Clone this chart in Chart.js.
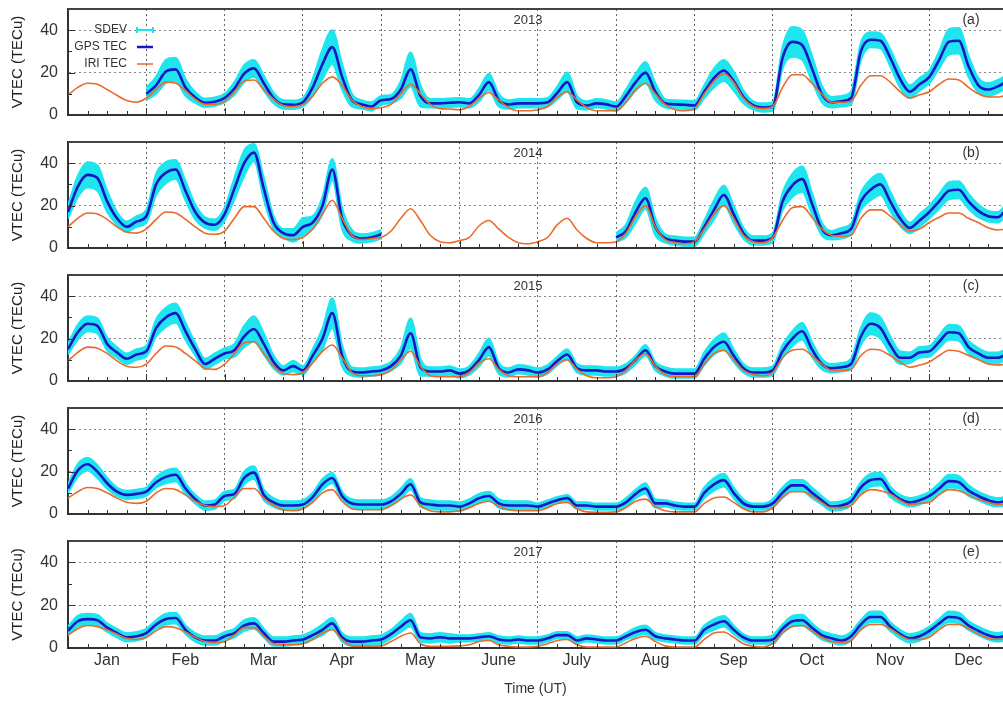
<!DOCTYPE html>
<html>
<head>
<meta charset="utf-8">
<script src="https://cdn.jsdelivr.net/npm/chart.js@4.4.1/dist/chart.umd.min.js"></script>
<style>
  html, body { margin: 0; padding: 0; background: #fff; overflow: hidden; }
  #wrap { position: relative; width: 1003px; height: 701px; }
  canvas { position: absolute; left: 0; }
</style>
</head>
<body>
<div id="wrap">
  <canvas id="c0" width="1003" height="133" style="top:0px"></canvas>
  <canvas id="c1" width="1003" height="133" style="top:133px"></canvas>
  <canvas id="c2" width="1003" height="133" style="top:266px"></canvas>
  <canvas id="c3" width="1003" height="133" style="top:399px"></canvas>
  <canvas id="c4" width="1003" height="169" style="top:532px"></canvas>
</div>
<script>
const months = ['Jan', 'Feb', 'Mar', 'Apr', 'May', 'June', 'July', 'Aug', 'Sep', 'Oct', 'Nov', 'Dec'];
const years = ['2013', '2014', '2015', '2016', '2017'];
const tags = ['(a)', '(b)', '(c)', '(d)', '(e)'];
const perMonth = 8; // one value every 3 h UT, one line per month below
const N = null;

// ---- 2013 ----
const gps2013 = [
  N, N, N, N, N, N, N, N,
  10, 14, 20.5, 21.5, 13, 8.3, 5.8, 6.3,
  8, 12.5, 19.5, 22, 15, 8, 5, 4.8,
  6, 13, 24, 32, 18, 7, 5, 4,
  7, 7.5, 12, 21.5, 9, 5.5, 5.5, 5.8,
  6, 5.5, 9.5, 15.5, 7, 5, 5.5, 5.5,
  5.5, 6, 10.5, 15.5, 6, 4.5, 5.5, 5,
  4, 9, 15.5, 20, 11, 5.5, 5, 4.8,
  4.5, 11, 17.5, 21, 16, 8.5, 4.5, 3.5,
  4, 27, 34.5, 33, 22, 10, 6, 6.5,
  8, 30, 35.5, 35, 27, 17, 11, 14.5,
  18, 26, 34.5, 35, 23, 14, 12, 13.5,
  16
];
const sd2013 = [
  N, N, N, N, N, N, N, N,
  3, 4, 5.5, 5.5, 4, 2.5, 2, 2,
  2, 3, 4, 4, 3.5, 2.5, 2, 2,
  2, 4, 7, 8, 6, 3, 2, 2,
  2, 2, 4, 8, 5, 2, 2, 2,
  2, 2, 3, 4, 3, 2, 2, 2,
  2, 2, 3, 4.5, 3, 2, 2, 2,
  2, 3, 4, 5, 4, 2, 2, 2,
  2, 3, 4.5, 5, 4.5, 3, 2, 2,
  2, 5, 7, 7, 6, 4, 2.5, 2.5,
  3, 4, 3.5, 3.5, 4, 4, 3, 3,
  3, 4, 6, 6, 5, 3.5, 3, 3,
  3
];
const iri2013 = [
  9.4, 13, 15, 14.5, 12, 9.3, 6.8, 6,
  8, 12, 15.5, 15, 11.5, 7.5, 5, 5,
  6.5, 11, 16, 16.5, 12, 7.5, 4.5, 4,
  5, 9, 15, 18, 14, 7, 4, 3,
  3.5, 5, 10, 14.5, 10, 5, 3, 2.8,
  2.5, 4, 8, 10.5, 7, 3.5, 2, 2,
  2.5, 4, 8.5, 11, 7, 3.5, 2, 2,
  2, 6, 12, 15, 10, 5, 2.5, 2,
  3, 10, 16, 19.5, 15.5, 8, 4, 3,
  4, 13, 19, 19, 15, 10, 6, 6,
  6.5, 14, 18.5, 18.5, 15.5, 11, 8, 9.5,
  11, 14.5, 17, 16.5, 13, 10, 8.5, 8.5,
  9.5
];

// ---- 2014 ----
const gps2014 = [
  17, 29, 34.5, 33, 22, 14, 10, 12.5,
  15, 30, 35.5, 37, 27, 17, 12, 11,
  16, 28, 40, 45, 28, 12, 7, 6,
  10, 12, 20, 37, 14, 6, 4.5, 5,
  6.5, N, N, N, N, N, N, N,
  N, N, N, N, N, N, N, N,
  N, N, N, N, N, N, N, N,
  5, 8, 17, 23.5, 10, 4.5, 3.5, 3,
  3, 10, 18, 25, 16, 7, 3.5, 3.5,
  5, 22, 29.5, 32.5, 21, 9, 6, 7,
  9, 22, 27.5, 30, 22, 14, 9.5, 13,
  17, 22, 27, 27.5, 22, 17.5, 15, 14.5,
  19
];
const sd2014 = [
  3, 5, 6, 6, 5, 3, 2.5, 2.5,
  3, 5, 5, 4.5, 4.5, 3.5, 2.5, 2.5,
  3, 5, 6, 4, 5, 3, 2, 3,
  4, 3, 4, 5, 5, 2.5, 2, 2,
  2, N, N, N, N, N, N, N,
  N, N, N, N, N, N, N, N,
  N, N, N, N, N, N, N, N,
  2, 3, 5, 5, 4, 2, 2, 2,
  2, 3, 4.5, 4.5, 4, 2.5, 2, 2,
  2, 4, 5.5, 6, 5, 3, 2, 2.5,
  2.5, 4, 5, 5, 4.5, 3.5, 2.5, 3,
  3, 3.5, 4, 4, 3.5, 3, 2.5, 2.5,
  3
];
const iri2014 = [
  10, 14, 16.5, 16, 13.5, 10, 7.5, 7,
  9, 13.5, 17, 16.5, 13.5, 10, 7, 6.5,
  8, 14, 19.5, 19.5, 14, 8, 4.5, 4,
  5, 9, 16, 22.5, 14, 6, 4, 4.5,
  5, 8, 14, 18.5, 13, 6, 3, 2.5,
  3.5, 5, 10.5, 13, 9, 5, 2.5, 2,
  3, 5, 11, 14, 8.5, 4.5, 2.5, 2.5,
  3, 7, 15, 20, 10, 4, 2.5, 2,
  3, 9, 16, 20, 14, 6, 3, 2.5,
  5, 13, 19, 19.5, 14.5, 9, 6, 5.5,
  6, 14, 18, 18, 15, 11, 8, 9,
  12, 14.5, 16.5, 16.5, 14, 12, 9.5, 8.5,
  9
];

// ---- 2015 ----
const gps2015 = [
  15, 23, 27, 26, 17.5, 13.5, 10.5, 12.5,
  14, 25, 30, 32, 23.5, 15, 8, 10.5,
  13, 14.5, 21, 24.5, 17.5, 9, 5, 7,
  5, 12, 20, 32, 12, 4.5, 4, 4.5,
  5, 7, 12, 22.5, 6.5, 4.5, 4.5, 5,
  3.5, 5, 10, 16, 6, 4, 5.5, 5,
  4, 5.5, 9.5, 12.5, 6, 5, 5, 4.5,
  4.5, 6, 10, 14.5, 7, 4.5, 3.5, 3.5,
  3.5, 10.5, 16, 18.5, 12, 6, 4, 4,
  5, 14, 20, 23.5, 15, 8, 6, 6.5,
  8, 21, 27, 25, 17, 11, 11, 13.5,
  14, 18.5, 23, 22.5, 16, 13, 11, 11,
  13
];
const sd2015 = [
  2.5, 3.5, 3.5, 3.5, 3, 2.5, 2.5, 2.5,
  2.5, 4, 4.5, 4.5, 4, 3, 2.5, 2.5,
  2.5, 3, 5, 6, 5, 3, 2, 2.5,
  2, 3, 5, 7, 5, 2, 2, 2,
  2, 2, 3.5, 7, 4, 2, 2, 2,
  2, 2, 3, 4, 2.5, 2, 2, 2,
  2, 2, 2, 2.5, 2, 2, 2, 2,
  2, 2, 2, 2.5, 2, 2, 2, 2,
  2, 3, 3.5, 4, 3, 2, 2, 2,
  2, 3, 3.5, 4, 3.5, 2.5, 2, 2,
  2.5, 4, 5, 5, 4, 3, 2.5, 2.5,
  2.5, 3, 3.5, 3.5, 3, 2.5, 2.5, 2.5,
  2.5
];
const iri2015 = [
  9.5, 13.5, 16, 15.5, 13, 9.5, 7, 6.5,
  8, 13, 16.5, 16, 13, 9.5, 6, 5.5,
  8, 13, 18, 18.5, 13, 7, 3.5, 3,
  4, 8.5, 14, 17, 11, 4, 2.5, 2.5,
  3, 5, 10, 14, 7, 2.5, 2, 2,
  2, 4, 8.5, 10.5, 5.5, 2.5, 2, 2,
  2, 4, 8, 10, 5.5, 2.5, 1.5, 1.5,
  2, 5, 10, 13, 7, 3, 2, 2,
  2, 8, 13, 14.5, 10, 5, 3, 2.5,
  4, 11, 14.5, 15, 12, 8, 5, 5,
  5.5, 12, 15, 14.5, 12, 9, 6.5, 7.5,
  9, 12, 14.5, 14, 12, 10, 8, 7.5,
  8
];

// ---- 2016 ----
const gps2016 = [
  12, 20.5, 23.5, 20, 14.5, 10.5, 9, 9.5,
  10.5, 15, 17.5, 18.5, 12, 7, 4, 4.5,
  8.5, 9.5, 17, 19.5, 9, 5.5, 4, 4,
  4.5, 8, 14, 17, 8.5, 5, 4.5, 4.5,
  4.5, 6, 9.5, 14, 5.5, 4.5, 4, 4,
  3.5, 5, 7.5, 8.5, 5, 4, 4, 4,
  3.5, 5, 6.5, 7.5, 4, 4, 3.5, 3.5,
  3.5, 5.5, 9.5, 12, 5, 5, 4, 3.5,
  3.5, 10, 14, 16, 10, 5, 3.5, 3.5,
  5, 10, 13.5, 13.5, 10, 6.5, 3.5, 4,
  6, 12.5, 16, 16.5, 10.5, 7, 5.5, 6.5,
  8.5, 12, 15.5, 15, 11, 8.5, 6.5, 5.5,
  6.5
];
const sd2016 = [
  2, 3, 3, 3, 2.5, 2, 2, 2,
  2, 2.5, 3, 3, 2.5, 2, 2, 2,
  2, 2, 3, 3, 2.5, 2, 2, 2,
  2, 2, 2.5, 2.5, 2, 2, 2, 2,
  2, 2, 2.5, 2.5, 2, 2, 2, 2,
  2, 2, 2, 2, 2, 2, 2, 2,
  1.5, 1.5, 1.5, 1.5, 1.5, 1.5, 1.5, 1.5,
  1.5, 2, 2, 2.5, 2, 1.5, 1.5, 1.5,
  1.5, 2.5, 3, 3, 2.5, 2, 1.5, 1.5,
  2, 2.5, 2.5, 2.5, 2.5, 2, 2, 2,
  2, 2.5, 3, 3, 2.5, 2, 2, 2,
  2, 2.5, 3, 3, 2.5, 2, 2, 2,
  2
];
const iri2016 = [
  7.5, 10.5, 12.5, 12, 10, 7.5, 5.5, 5,
  6, 10, 12, 11.5, 9, 6, 4, 3.5,
  4, 8, 12, 12, 7.5, 4, 2, 1.5,
  2.5, 5.5, 10, 11.5, 6, 2.5, 2, 2,
  2, 4, 7, 9, 4, 1.5, 1, 1,
  1.5, 3, 5, 6, 3.5, 2, 1.5, 1.5,
  1.5, 3, 5, 5.5, 2.5, 1, 0.8, 0.8,
  1, 3, 6, 7, 3.5, 1.5, 1, 1,
  1, 5, 7.5, 8, 5.5, 2.5, 1, 1,
  3, 8, 10.5, 10.5, 8.5, 5.5, 3, 3,
  4, 9, 11.5, 11, 9.5, 6.5, 4.5, 5,
  5.5, 9, 11.5, 11, 9, 7, 5.5, 4.5,
  5
];

// ---- 2017 ----
const gps2017 = [
  8, 12.5, 13.5, 13, 9.5, 7, 5, 5.5,
  7, 11, 13.5, 14, 8.5, 5, 3.5, 3.5,
  5.5, 7, 10.5, 11.5, 7, 3, 3, 3.5,
  4, 6, 8.5, 11.5, 5, 3, 3, 3.5,
  4, 6.5, 10, 13, 5, 4.5, 5, 4.5,
  4.5, 4.5, 5, 5.5, 4, 3.5, 4, 3.5,
  3.5, 4.5, 6, 6, 3.5, 4.5, 4, 3.5,
  3.5, 5.5, 7.5, 8.5, 5.5, 4.5, 4, 3.5,
  3.5, 8.5, 11, 12.5, 8.5, 5, 3.5, 3.5,
  4, 9, 12.5, 13, 9.5, 6, 4.5, 3.5,
  5.5, 11, 14.5, 14.5, 10, 6.5, 4.5, 5.5,
  8, 11.5, 14.5, 14, 10.5, 8, 6, 5,
  6
];
const sd2017 = [
  2, 2.5, 2.5, 2.5, 2, 2, 2, 2,
  2, 2, 2.5, 2.5, 2, 2, 2, 2,
  2, 2, 2.5, 2.5, 2, 2, 2, 2,
  2, 2, 2.5, 2.5, 2, 2, 2, 2,
  2, 2, 2.5, 3, 2, 2, 2, 2,
  1.5, 1.5, 1.5, 1.5, 1.5, 1.5, 1.5, 1.5,
  1.5, 1.5, 1.5, 1.5, 1.5, 1.5, 1.5, 1.5,
  1.5, 1.5, 2, 2, 1.5, 1.5, 1.5, 1.5,
  1.5, 2, 2.5, 2.5, 2, 1.5, 1.5, 1.5,
  2, 2, 2.5, 2.5, 2, 2, 2, 2,
  2, 2, 2.5, 2.5, 2, 2, 2, 2,
  2, 2, 2.5, 2.5, 2, 2, 2, 2,
  2
];
const iri2017 = [
  6, 9, 10.5, 10, 8.5, 6.5, 4.5, 4,
  5, 8, 10, 9.5, 7.5, 5, 3, 2.5,
  3, 6, 9.5, 9.5, 5.5, 2, 1.5, 1.5,
  2, 4, 7, 8.5, 4, 1, 0.8, 0.8,
  1, 3, 5.5, 7, 2, 0.8, 0.8, 0.8,
  1, 1.5, 3, 3.5, 1.5, 0.8, 0.5, 0.5,
  0.8, 2, 3.5, 4, 1.5, 0.5, 0.5, 0.5,
  0.5, 2.5, 4.5, 5.5, 3, 1, 0.5, 0.5,
  0.5, 4, 7, 7.5, 5, 2, 0.8, 0.5,
  2, 7, 10, 10.5, 8, 5, 3, 2.5,
  3.5, 8.5, 11, 11, 9, 6, 4, 4,
  5, 8.5, 11, 11, 9, 6.5, 4.5, 4,
  4.5
];

const panels = [
  [gps2013, sd2013, iri2013],
  [gps2014, sd2014, iri2014],
  [gps2015, sd2015, iri2015],
  [gps2016, sd2016, iri2016],
  [gps2017, sd2017, iri2017]
];

const CYAN = '#1ee5ee';
const BLUE = '#1616c8';
const ORANGE = '#ea6a2a';
const FONT = '"Liberation Sans", Arial, sans-serif';
Chart.defaults.font.family = FONT;
Chart.defaults.color = '#333';

// frame top, inner ticks, year/tag labels and the legend of panel (a)
const panelDeco = {
  id: 'panelDeco',
  afterDraw(chart, args, opts) {
    const { ctx, chartArea: a, scales: { x, y } } = chart;
    ctx.save();
    ctx.strokeStyle = '#444';
    ctx.lineWidth = 2;
    ctx.beginPath();
    ctx.moveTo(a.left, a.top);
    ctx.lineTo(a.right, a.top);
    ctx.stroke();

    ctx.strokeStyle = '#333';
    ctx.lineWidth = 1;
    ctx.beginPath();
    for (let q = 1; q < 48; q++) {
      const px = Math.round(x.getPixelForValue(q / 4)) + 0.5;
      const len = q % 4 === 0 ? 7 : 4;
      ctx.moveTo(px, a.bottom);
      ctx.lineTo(px, a.bottom - len);
    }
    [10, 20, 30, 40].forEach(v => {
      const py = Math.round(y.getPixelForValue(v)) + 0.5;
      ctx.moveTo(a.left, py);
      ctx.lineTo(a.left + (v % 20 ? 4 : 7), py);
    });
    ctx.stroke();

    ctx.fillStyle = '#333';
    ctx.textBaseline = 'middle';
    ctx.textAlign = 'center';
    ctx.font = '13px ' + FONT;
    ctx.fillText(opts.year, 528, a.top + 11);
    ctx.font = '14px ' + FONT;
    ctx.fillText(opts.tag, 971, a.top + 11);

    if (opts.legend) {
      const items = [['SDEV', CYAN, 2], ['GPS TEC', BLUE, 2.5], ['IRI TEC', ORANGE, 1.5]];
      ctx.font = '12px ' + FONT;
      ctx.textAlign = 'right';
      items.forEach(([label, color, w], i) => {
        const ly = a.top + 21 + i * 17;
        ctx.fillStyle = '#333';
        ctx.fillText(label, 127, ly);
        ctx.strokeStyle = color;
        ctx.lineWidth = w;
        ctx.beginPath();
        ctx.moveTo(137, ly);
        ctx.lineTo(153, ly);
        if (i === 0) {
          ctx.moveTo(137, ly - 3); ctx.lineTo(137, ly + 3);
          ctx.moveTo(153, ly - 3); ctx.lineTo(153, ly + 3);
        }
        ctx.stroke();
      });
    }
    ctx.restore();
  }
};

panels.forEach(([gps, sd, iri], k) => {
  const last = k === panels.length - 1;
  const xy = arr => arr.map((v, i) => ({ x: i / perMonth, y: v }));
  const up = gps.map((v, i) => v == null ? null : v + sd[i]);
  const lo = gps.map((v, i) => v == null ? null : Math.max(0, v - sd[i]));

  new Chart(document.getElementById('c' + k), {
    type: 'line',
    data: {
      datasets: [
        { label: 'IRI TEC', data: xy(iri), borderColor: ORANGE, borderWidth: 1.6, fill: false },
        { label: 'GPS TEC', data: xy(gps), borderColor: BLUE, borderWidth: 2.6, fill: false },
        { label: 'SDEV', data: xy(up), borderColor: CYAN, backgroundColor: CYAN, borderWidth: 2, fill: '+1' },
        { label: 'SDEV low', data: xy(lo), borderColor: CYAN, borderWidth: 2, fill: false }
      ]
    },
    options: {
      responsive: false,
      animation: false,
      events: [],
      layout: { padding: { top: 9, right: 0, left: 0, bottom: last ? 0 : 18 } },
      elements: {
        point: { radius: 0 },
        line: { cubicInterpolationMode: 'monotone' }
      },
      plugins: {
        legend: { display: false },
        tooltip: { enabled: false },
        panelDeco: { year: years[k], tag: tags[k], legend: k === 0 }
      },
      scales: {
        x: {
          type: 'linear',
          min: 0,
          max: 11.94,
          afterBuildTicks: s => { s.ticks = months.map((m, i) => ({ value: i })); },
          afterFit: s => { s.height = last ? 53 : 0; s.paddingLeft = 0; s.paddingRight = 0; },
          ticks: {
            display: last,
            labelOffset: 39,
            padding: 3,
            maxRotation: 0,
            autoSkip: false,
            color: '#333',
            font: { size: 16 },
            callback: v => months[Math.round(v)]
          },
          grid: {
            drawTicks: false,
            lineWidth: 1,
            color: c => c.tick && c.tick.value === 0 ? 'rgba(0,0,0,0)' : '#666'
          },
          border: { display: true, color: '#333', width: 2, dash: [2, 3] },
          title: {
            display: last,
            text: 'Time (UT)',
            color: '#333',
            font: { size: 14 },
            padding: { top: 0, bottom: 3 }
          }
        },
        y: {
          min: 0,
          max: 50,
          afterBuildTicks: s => { s.ticks = [0, 20, 40].map(v => ({ value: v })); },
          afterFit: s => { s.width = 68; s.paddingTop = 0; s.paddingBottom = 0; },
          ticks: { padding: 10, color: '#333', font: { size: 16 } },
          grid: {
            drawTicks: false,
            lineWidth: 1,
            color: c => c.tick && (c.tick.value === 20 || c.tick.value === 40) ? '#888' : 'rgba(0,0,0,0)'
          },
          border: { display: true, color: '#333', width: 2, dash: [2, 3] },
          title: {
            display: true,
            text: 'VTEC (TECu)',
            color: '#222',
            font: { size: 15 },
            padding: { top: 9, bottom: 0 }
          }
        }
      }
    },
    plugins: [panelDeco]
  });
});
</script>
</body>
</html>
